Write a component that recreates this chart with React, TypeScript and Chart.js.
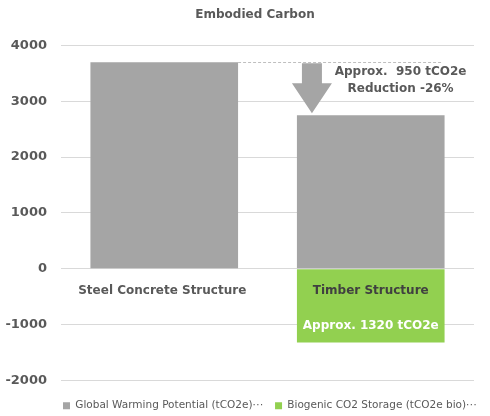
import React, { useEffect, useRef } from "react";
import { Chart, registerables } from "chart.js";

Chart.register(...registerables);

const categories = ["Steel Concrete Structure", "Timber Structure"];
const gwpValues = [3700, 2750];
const biogenicValues = [0, -1320];
const seriesNames = ["Global Warming Potential (tCO2e)\u22EF", "Biogenic CO2 Storage (tCO2e bio)\u22EF"];
const reductionLines = ["Approx.  950 tCO2e", "Reduction -26%"];
const storageLabel = "Approx. 1320 tCO2e";
const titleText = "Embodied Carbon";

const FONT = "'DejaVu Sans', Verdana, sans-serif";
const GRAY = "#A5A5A5";
const GREEN = "#92D050";
const TEXT = "#595959";

const boxShift = {
  id: "boxShift",
  afterLayout(chart: any) {
    const lg = chart.legend;
    if (lg) {
      const dx = 51;
      const dy = 8;
      lg.left += dx;
      lg.right += dx;
      lg.top += dy;
      lg.bottom += dy;
      (lg.legendHitBoxes || []).forEach((h: any) => {
        h.left += dx;
        h.top += dy;
      });
    }
    const tt = chart.titleBlock;
    if (tt) {
      tt.left += 18;
      tt.right += 18;
    }
  },
};

const annotations = {
  id: "annotations",
  afterDatasetsDraw(chart: any) {
    const ctx = chart.ctx;
    const x = chart.scales.x;
    const y = chart.scales.y;
    const m0 = chart.getDatasetMeta(0);
    const m1 = chart.getDatasetMeta(1);
    const b0 = m0.data[0];
    const b1 = m0.data[1];
    const g1 = m1.data[1];
    const half1 = b1.width / 2;
    const left1 = b1.x - half1;
    const right1 = b1.x + half1;
    const topY = y.getPixelForValue(gwpValues[0]);
    ctx.save();
    ctx.strokeStyle = "#BFBFBF";
    ctx.lineWidth = 1;
    ctx.setLineDash([3, 2]);
    ctx.beginPath();
    ctx.moveTo(b0.x + b0.width / 2, Math.round(topY) + 0.5);
    ctx.lineTo(right1 - 2, Math.round(topY) + 0.5);
    ctx.stroke();
    ctx.setLineDash([]);
    const ax = left1 + 15;
    const tipY = y.getPixelForValue(gwpValues[1]) - 2;
    const headY = tipY - 30;
    ctx.fillStyle = GRAY;
    ctx.beginPath();
    ctx.moveTo(ax - 10, topY + 1);
    ctx.lineTo(ax + 10, topY + 1);
    ctx.lineTo(ax + 10, headY);
    ctx.lineTo(ax + 20, headY);
    ctx.lineTo(ax, tipY);
    ctx.lineTo(ax - 20, headY);
    ctx.lineTo(ax - 10, headY);
    ctx.closePath();
    ctx.fill();
    ctx.fillStyle = TEXT;
    ctx.font = `bold 12px ${FONT}`;
    ctx.textAlign = "center";
    ctx.textBaseline = "middle";
    ctx.fillText(reductionLines[0], right1 - 44, topY + 10);
    ctx.fillText(reductionLines[1], right1 - 44, topY + 27);
    const zeroY = y.getPixelForValue(0);
    ctx.fillStyle = TEXT;
    ctx.fillText(categories[0], x.getPixelForValue(0) - 2, zeroY + 22);
    ctx.fillStyle = "#404040";
    ctx.fillText(categories[1], x.getPixelForValue(1), zeroY + 22);
    ctx.fillStyle = "#FFFFFF";
    ctx.fillText(storageLabel, g1.x, zeroY + 57);
    ctx.restore();
  },
};

export default function App() {
  const ref = useRef<HTMLCanvasElement>(null);
  useEffect(() => {
    document.body.style.margin = "0";
    const chart = new Chart(ref.current!, {
      type: "bar",
      data: {
        labels: categories,
        datasets: [
          { label: seriesNames[0], data: gwpValues, backgroundColor: GRAY, barPercentage: 0.715, categoryPercentage: 1 },
          { label: seriesNames[1], data: biogenicValues, backgroundColor: GREEN, barPercentage: 0.715, categoryPercentage: 1 },
        ],
      },
      options: {
        animation: false,
        responsive: false,
        layout: { padding: { left: 0, right: 16, top: 0, bottom: 3 } },
        plugins: {
          title: {
            display: true,
            text: titleText,
            color: TEXT,
            font: { family: FONT, size: 12, weight: "bold" },
            padding: { top: 8, bottom: 23 },
          },
          legend: {
            position: "bottom",
            align: "start",
            labels: {
              color: TEXT,
              font: { family: FONT, size: 10.5 },
              boxWidth: 7,
              boxHeight: 7,
              padding: 12,
            },
          },
          tooltip: { enabled: false },
        },
        scales: {
          x: {
            stacked: true,
            display: false,
          },
          y: {
            stacked: true,
            min: -2000,
            max: 4000,
            border: { display: false },
            grid: { color: "#D9D9D9", drawTicks: false },
            ticks: {
              stepSize: 1000,
              color: TEXT,
              padding: 14,
              font: { family: FONT, size: 13, weight: "bold" },
              callback: (v: any) => String(v),
            },
            afterFit(scale: any) {
              scale.width = 61;
            },
          },
        },
      },
      plugins: [boxShift, annotations],
    });
    return () => chart.destroy();
  }, []);
  return (
    <div style={{ position: "absolute", left: 0, top: 0, width: 490, height: 416 }}>
      <canvas ref={ref} width={490} height={416} />
    </div>
  );
}
